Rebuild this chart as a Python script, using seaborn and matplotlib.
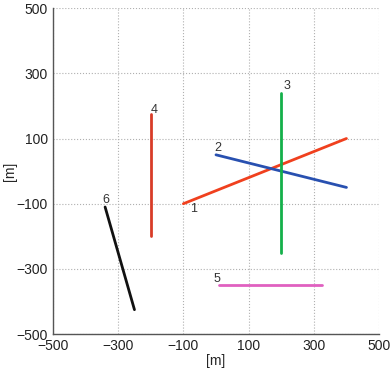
import numpy as np
import pandas as pd
import matplotlib
matplotlib.use("Agg")
import matplotlib.pyplot as plt
import seaborn as sns

# segment end points [m]
seg_ids = ['1', '2', '3', '4', '5', '6']
x_start = [-100, 0, 200, -200, 10, -340]
y_start = [-100, 50, 240, 175, -350, -110]
x_end = [400, 400, 200, -200, 325, -250]
y_end = [100, -50, -250, -200, -350, -425]
colors = ['#f0401e', '#2850b0', '#14b04a', '#d83c28', '#e060c0', '#111111']

# label positions
lab_x = [-68, 5, 218, -188, 2, -337]
lab_y = [-116, 70, 260, 186, -332, -88]

sns.set_style("white")
plt.rcParams['font.family'] = ['Liberation Sans', 'DejaVu Sans']

rows = []
for i, s in enumerate(seg_ids):
    rows.append({'seg': s, 'x': x_start[i], 'y': y_start[i]})
    rows.append({'seg': s, 'x': x_end[i], 'y': y_end[i]})
df = pd.DataFrame(rows)

fig = plt.figure(figsize=(3.92, 3.68), dpi=100)
ax = fig.add_axes([0.135, 0.092, 0.832, 0.886])

sns.lineplot(data=df, x='x', y='y', hue='seg', palette=dict(zip(seg_ids, colors)),
             sort=False, estimator=None, linewidth=2, legend=False, ax=ax)

for i, s in enumerate(seg_ids):
    ax.text(lab_x[i], lab_y[i], s, fontsize=9, color='#333333', ha='center', va='center')

ax.set_xlim(-500, 500)
ax.set_ylim(-500, 500)
ticks = [-500, -300, -100, 100, 300, 500]
ax.set_xticks(ticks)
ax.set_yticks(ticks)
ax.tick_params(labelsize=10, length=2, direction='in', colors='#222222')
ax.grid(True, linestyle=':', color='#b0b0b0', linewidth=0.8)
for sp in ['top', 'right']:
    ax.spines[sp].set_visible(False)
for sp in ['left', 'bottom']:
    ax.spines[sp].set_color('#555555')
    ax.spines[sp].set_linewidth(1)
ax.set_xlabel('[m]', fontsize=10, labelpad=1)
ax.set_ylabel('[m]', fontsize=10)
ax.yaxis.set_label_coords(-0.11, 0.5)

fig.savefig('out.png', dpi=100)
